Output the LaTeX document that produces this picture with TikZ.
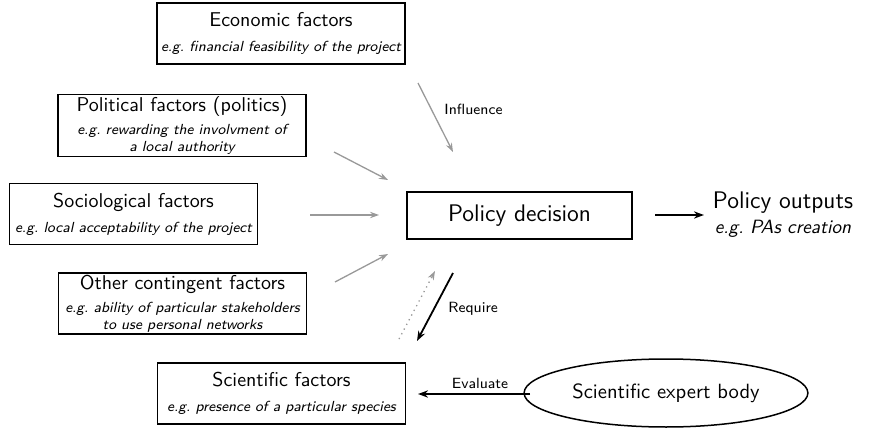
\documentclass[tikz,border=0pt]{standalone}
\usepackage{fontspec}
\usetikzlibrary{arrows.meta,shapes.geometric}
\renewcommand{\familydefault}{\sfdefault}
\newcommand{\boxtitle}[1]{{\upshape\fontsize{10}{12}\selectfont #1}}
\definecolor{influgray}{gray}{0.6}
\begin{document}
\begin{tikzpicture}[x=0.5pt,y=-0.5pt,
    factor/.style={draw,line width=0.75pt,minimum width=124pt,minimum height=30.5pt,
        align=center,inner sep=1pt,font=\fontsize{7.3}{8.5}\selectfont\itshape},
    influ/.style={influgray,line width=0.65pt,-{Stealth[length=4.5pt,width=3.2pt]}},
    strong/.style={black,line width=0.9pt,-{Stealth[length=5pt,width=3.6pt]}},
    lbl/.style={font=\fontsize{7.4}{8.5}\selectfont,inner sep=0pt}]
    \useasboundingbox (0,0) rectangle (869,428);
    % factors around the decision
    \node[factor] (econ) at (281,33.5) {\boxtitle{Economic factors}\\[4pt] e.g.\ financial feasibility of the project};
    \node[factor] (pol) at (182,125.5) {\boxtitle{Political factors (politics)}\\[3pt] e.g.\ rewarding the involvment of\\ a local authority};
    \node[factor] (soc) at (133.5,214) {\boxtitle{Sociological factors}\\[4pt] e.g.\ local acceptability of the project};
    \node[factor] (oth) at (182.5,303.5) {\boxtitle{Other contingent factors}\\[3pt] e.g.\ ability of particular stakeholders\\ to use personal networks};
    \node[factor] (sci) at (281.5,393.5) {\boxtitle{Scientific factors}\\[4pt] e.g.\ presence of a particular species};
    \node[draw,line width=0.75pt,minimum width=112.5pt,minimum height=23.5pt,font=\fontsize{12}{14}\selectfont]
        (dec) at (519.5,215.5) {Policy decision};
    \node[align=center,inner sep=0pt,font=\fontsize{12}{12.5}\selectfont] (out) at (783,215)
        {Policy outputs\\ {\fontsize{9.6}{12}\selectfont\itshape e.g.\ PAs creation}};
    \node[draw,ellipse,line width=0.75pt,minimum width=124.5pt,minimum height=34pt,
        font=\fontsize{10.3}{12}\selectfont] (body) at (666,393) {Scientific expert body};
    % arrow ends
    \coordinate (econ-a) at (418,83);  \coordinate (econ-b) at (453,152);
    \coordinate (pol-a) at (334,152);  \coordinate (pol-b) at (388,180);
    \coordinate (soc-a) at (310,215);  \coordinate (soc-b) at (379,215);
    \coordinate (oth-a) at (335,282);  \coordinate (oth-b) at (388,254);
    \coordinate (sci-a) at (399,339);  \coordinate (sci-b) at (435,271);
    \coordinate (req-a) at (453,273);  \coordinate (req-b) at (417,341);
    \coordinate (eva-a) at (530,394);  \coordinate (eva-b) at (418,394);
    \coordinate (out-a) at (655,215);  \coordinate (out-b) at (704,215);
    \draw[influ] (econ-a) -- (econ-b);
    \draw[influ] (pol-a) -- (pol-b);
    \draw[influ] (soc-a) -- (soc-b);
    \draw[influ] (oth-a) -- (oth-b);
    \draw[influ,dotted] (sci-a) -- (sci-b);
    \draw[strong] (req-a) -- (req-b);
    \draw[strong] (eva-a) -- (eva-b);
    \draw[strong] (out-a) -- (out-b);
    \node[lbl,anchor=west] (influence) at (444,109) {Influence};
    \node[lbl,anchor=west] (require) at (448,309) {Require};
    \node[lbl] (evaluate) at (480,383) {Evaluate};
\end{tikzpicture}
\end{document}
